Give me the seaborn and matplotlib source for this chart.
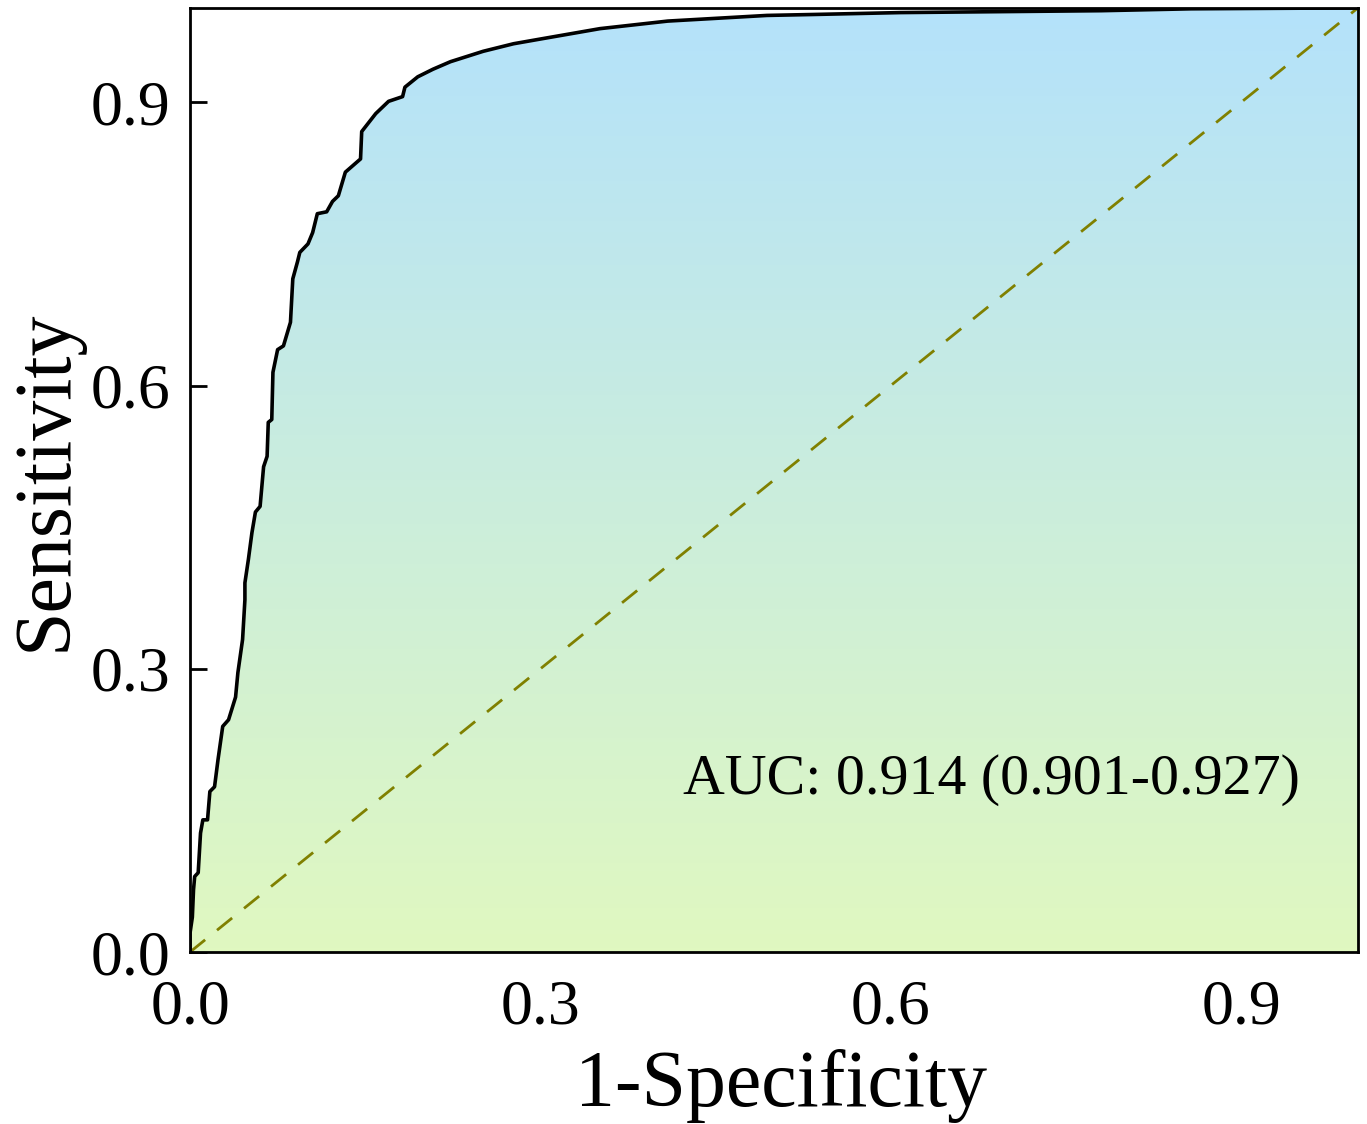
import numpy as np
import pandas as pd
import seaborn as sns
import matplotlib.pyplot as plt
from matplotlib.colors import LinearSegmentedColormap

# ROC curve
fpr = [0.000, 0.000, 0.002, 0.003, 0.004, 0.007, 0.009, 0.011, 0.015, 0.017,
       0.021, 0.024, 0.028, 0.033, 0.039, 0.041, 0.045, 0.047, 0.047, 0.050,
       0.053, 0.056, 0.060, 0.063, 0.066, 0.067, 0.070, 0.071, 0.075, 0.080,
       0.086, 0.088, 0.092, 0.094, 0.101, 0.105, 0.109, 0.117, 0.122, 0.127,
       0.133, 0.146, 0.147, 0.159, 0.170, 0.182, 0.184, 0.195, 0.208, 0.223,
       0.251, 0.277, 0.300, 0.351, 0.409, 0.494, 0.534, 0.608, 0.694, 0.780,
       0.857, 1.000]
tpr = [0.000, 0.020, 0.037, 0.066, 0.080, 0.084, 0.126, 0.140, 0.140, 0.170,
       0.175, 0.204, 0.239, 0.246, 0.270, 0.296, 0.331, 0.373, 0.391, 0.416,
       0.444, 0.466, 0.472, 0.514, 0.525, 0.561, 0.564, 0.614, 0.638, 0.642,
       0.667, 0.713, 0.731, 0.741, 0.750, 0.762, 0.782, 0.784, 0.795, 0.801,
       0.826, 0.840, 0.869, 0.888, 0.901, 0.906, 0.916, 0.927, 0.935, 0.943,
       0.954, 0.962, 0.967, 0.978, 0.986, 0.992, 0.993, 0.995, 0.996, 0.997,
       0.999, 1.000]
ticks = [0.0, 0.3, 0.6, 0.9]
tick_labels = ["0.0", "0.3", "0.6", "0.9"]
auc_text = "AUC: 0.914 (0.901-0.927)"

roc = pd.DataFrame({"fpr": fpr, "tpr": tpr})
diag = pd.DataFrame({"x": [0, 1], "y": [0, 1]})

sns.set_theme(style="ticks")
plt.rcParams['font.family'] = ['Liberation Serif', 'DejaVu Serif']
plt.rcParams.update({"text.color": "black", "axes.labelcolor": "black",
                     "xtick.color": "black", "ytick.color": "black"})

fig = plt.figure(figsize=(13.67, 11.24), dpi=100)
ax = fig.add_axes([0.139, 0.153, 0.8544, 0.84])

# gradient fill under the curve
cmap = LinearSegmentedColormap.from_list("grad", ["#e0f8c0", "#b4e2fb"])
poly = ax.fill_between(roc["fpr"], roc["tpr"], 0, color="none", lw=0)
grad = np.linspace(0, 1, 256).reshape(-1, 1)
img = ax.imshow(grad, extent=[0, 1, 0, 1], origin="lower", aspect="auto",
                cmap=cmap, zorder=1)
img.set_clip_path(poly.get_paths()[0], transform=ax.transData)

sns.lineplot(data=diag, x="x", y="y", ax=ax, color="#808000",
             linestyle=(0, (7, 5.5)), linewidth=2.0, zorder=2)
sns.lineplot(data=roc, x="fpr", y="tpr", ax=ax, sort=False, estimator=None,
             color="black", linewidth=2.6, zorder=3)

ax.text(0.422, 0.182, auc_text, fontsize=41.7, va="center", ha="left")

ax.set_xlim(0, 1)
ax.set_ylim(0, 1)
ax.set_xticks(ticks)
ax.set_xticklabels(tick_labels)
ax.set_yticks(ticks)
ax.set_yticklabels(tick_labels)
ax.tick_params(axis="x", length=0, pad=20, labelsize=46)
ax.tick_params(axis="y", direction="in", length=12, width=2, pad=14, labelsize=46)
for s in ax.spines.values():
    s.set_linewidth(2)
    s.set_color("black")
ax.set_xlabel("1-Specificity", fontsize=57.5)
ax.xaxis.set_label_coords(0.506, -0.103)
ax.set_ylabel("Sensitivity", fontsize=57.5, labelpad=6)

plt.savefig("out.png", dpi=100)
